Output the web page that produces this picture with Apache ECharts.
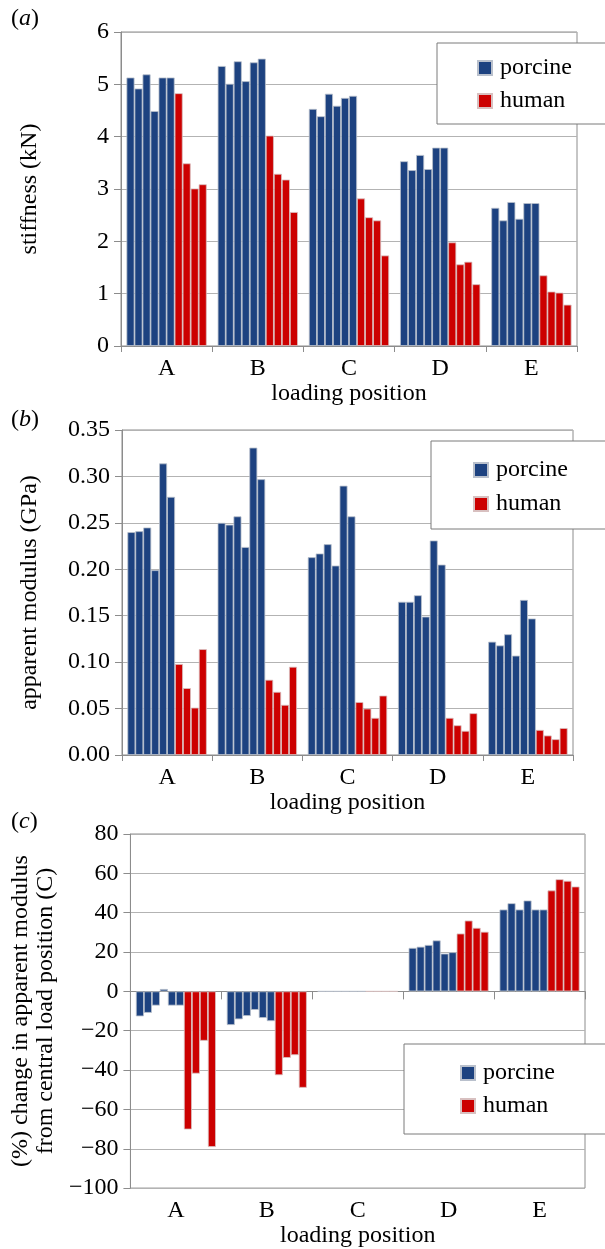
<!DOCTYPE html>
<html>
<head>
<meta charset="utf-8">
<script src="https://cdn.jsdelivr.net/npm/echarts@6/dist/echarts.min.js"></script>
<style>
html,body{margin:0;padding:0;background:#fff;}
#chart{width:605px;height:1249px;}
</style>
</head>
<body>
<div id="chart"></div>
<script>
// ---- data ----
const categories = ['A', 'B', 'C', 'D', 'E'];
const seriesNames = ['porcine', 'human'];

// (a) stiffness (kN): 6 porcine specimens, 4 human specimens per loading position
const stiffPorcine = [
  [5.13, 4.92, 5.19, 4.49, 5.13, 5.13],
  [5.35, 5.01, 5.44, 5.06, 5.42, 5.49],
  [4.53, 4.39, 4.82, 4.59, 4.74, 4.78],
  [3.53, 3.36, 3.65, 3.38, 3.79, 3.79],
  [2.64, 2.40, 2.75, 2.43, 2.73, 2.73]
];
const stiffHuman = [
  [4.83, 3.49, 3.01, 3.09],
  [4.02, 3.29, 3.18, 2.56],
  [2.82, 2.46, 2.40, 1.73],
  [1.98, 1.56, 1.61, 1.18],
  [1.35, 1.04, 1.02, 0.79]
];

// (b) apparent modulus (GPa)
const modPorcine = [
  [0.240, 0.241, 0.245, 0.199, 0.314, 0.278],
  [0.250, 0.248, 0.257, 0.224, 0.331, 0.297],
  [0.213, 0.217, 0.227, 0.204, 0.290, 0.257],
  [0.165, 0.165, 0.172, 0.149, 0.231, 0.205],
  [0.122, 0.118, 0.130, 0.107, 0.167, 0.147]
];
const modHuman = [
  [0.098, 0.072, 0.051, 0.114],
  [0.081, 0.068, 0.054, 0.095],
  [0.057, 0.050, 0.040, 0.064],
  [0.040, 0.032, 0.026, 0.045],
  [0.027, 0.021, 0.017, 0.029]
];

// (c) % change in apparent modulus from central load position (C)
const chgPorcine = [
  [-12.7, -10.9, -7.2, 1.2, -7.2, -7.2],
  [-17.1, -14.2, -12.5, -9.4, -13.5, -15.1],
  [0, 0, 0, 0, 0, 0],
  [22.1, 22.7, 23.6, 25.9, 19.2, 19.9],
  [41.6, 44.8, 41.6, 46.2, 41.6, 41.6]
];
const chgHuman = [
  [-70.2, -41.8, -25.1, -79.1],
  [-42.6, -33.8, -32.4, -49.0],
  [0, 0, 0, 0],
  [29.4, 36.0, 32.3, 30.3],
  [51.3, 57.0, 56.2, 53.3]
];

// ---- styles ----
const FONT = 'Liberation Serif';
const BLUE = '#1d4280';
const RED = '#cc0000';
const AXIS = '#8c8c8c';
const GRIDLINE = '#b3b3b3';
const FS = 24;

function buildSeries(porc, hum, xIdx, yIdx) {
  const out = [];
  const nP = porc[0].length, nH = hum[0].length;
  for (let i = 0; i < nP; i++) {
    out.push({
      type: 'bar', name: 'porcine', xAxisIndex: xIdx, yAxisIndex: yIdx,
      data: porc.map(r => r[i]),
      barGap: '0%', barCategoryGap: '12%',
      itemStyle: { color: BLUE, borderColor: '#b9c0cc', borderWidth: 0.8 },
      emphasis: { disabled: true }, animation: false
    });
  }
  for (let i = 0; i < nH; i++) {
    out.push({
      type: 'bar', name: 'human', xAxisIndex: xIdx, yAxisIndex: yIdx,
      data: hum.map(r => r[i]),
      barGap: '0%', barCategoryGap: '12%',
      itemStyle: { color: RED, borderColor: '#d8c0c0', borderWidth: 0.8 },
      emphasis: { disabled: true }, animation: false
    });
  }
  return out;
}

const minus = v => (v < 0 ? '\u2212' + Math.abs(v) : String(v));

function yAxis(gridIndex, min, max, interval, name, nameGap, fmt) {
  return {
    type: 'value', gridIndex, min, max, interval,
    name, nameLocation: 'middle', nameRotate: 90, nameGap,
    nameTextStyle: { fontFamily: FONT, fontSize: FS, color: '#000', lineHeight: 25 },
    axisLine: { show: true, lineStyle: { color: AXIS, width: 1 } },
    axisTick: { show: true, inside: false, length: 7, lineStyle: { color: AXIS } },
    axisLabel: { fontFamily: FONT, fontSize: FS, color: '#000', margin: 12, formatter: fmt },
    splitLine: { show: true, lineStyle: { color: GRIDLINE, width: 1.2 } }
  };
}

function xAxis(gridIndex, opts) {
  return Object.assign({
    type: 'category', gridIndex, data: categories,
    name: 'loading position', nameLocation: 'middle', nameGap: 35,
    nameTextStyle: { fontFamily: FONT, fontSize: FS, color: '#000' },
    axisLine: { show: true, onZero: false, lineStyle: { color: AXIS, width: 1 } },
    axisTick: { show: true, length: 6, alignWithLabel: false, lineStyle: { color: AXIS } },
    axisLabel: { fontFamily: FONT, fontSize: FS, color: '#000', margin: 11 },
    splitLine: { show: false }
  }, opts);
}

function legend(left, top, pad, gap) {
  return {
    data: seriesNames, orient: 'vertical', left, top,
    padding: pad, itemGap: gap,
    icon: 'rect', itemWidth: 14, itemHeight: 14,
    backgroundColor: '#fff', borderColor: '#7a7a7a', borderWidth: 1,
    textStyle: { fontFamily: FONT, fontSize: FS, color: '#000', padding: [0, 0, 0, 3] },
    selectedMode: false, z: 10
  };
}

function panelTitle(letter, top) {
  return {
    text: '{n|(}{i|' + letter + '}{n|)}', left: 6, top,
    textStyle: {
      fontFamily: FONT, fontWeight: 'normal',
      rich: {
        n: { fontFamily: FONT, fontSize: FS, fontWeight: 'normal', color: '#000' },
        i: { fontFamily: FONT, fontSize: FS, fontWeight: 'normal', fontStyle: 'italic', color: '#000' }
      }
    }
  };
}

const option = {
  backgroundColor: '#fff',
  animation: false,
  textStyle: { fontFamily: FONT },
  title: [panelTitle('a', 2), panelTitle('b', 403), panelTitle('c', 805)],
  legend: [
    legend(437, 43, [13, 80, 11, 40], 9),
    legend(431, 441, [17, 80, 13, 42], 10),
    legend(404, 1044, [17, 80, 16, 56], 9)
  ],
  grid: [
    { left: 121, top: 32, width: 456, height: 314, show: true, borderColor: AXIS, borderWidth: 1, backgroundColor: 'transparent' },
    { left: 122, top: 430, width: 451, height: 325, show: true, borderColor: AXIS, borderWidth: 1, backgroundColor: 'transparent' },
    { left: 122, top: 834, width: 463, height: 359, show: true, borderColor: AXIS, borderWidth: 1, backgroundColor: 'transparent' }
  ],
  xAxis: [
    xAxis(0, {}),
    xAxis(1, {}),
    xAxis(2, {
      name: '', axisLine: { show: true, onZero: true, lineStyle: { color: AXIS, width: 1 } },
      axisTick: { show: true, length: 8, alignWithLabel: false, lineStyle: { color: AXIS } },
      axisLabel: { show: false }
    }),
    xAxis(2, {
      position: 'bottom', axisLine: { show: false, onZero: false },
      axisTick: { show: false }
    })
  ],
  yAxis: [
    yAxis(0, 0, 6, 1, 'stiffness (kN)', 79, v => String(v)),
    yAxis(1, 0, 0.35, 0.05, 'apparent modulus (GPa)', 80, v => v.toFixed(2)),
    yAxis(2, -100, 80, 20, '(%) change in apparent modulus\nfrom central load position (C)', 58, minus)
  ],
  series: [].concat(
    buildSeries(stiffPorcine, stiffHuman, 0, 0),
    buildSeries(modPorcine, modHuman, 1, 1),
    buildSeries(chgPorcine, chgHuman, 2, 2)
  )
};

const chart = echarts.init(document.getElementById('chart'), null, { renderer: 'canvas' });
chart.setOption(option);
</script>
</body>
</html>
